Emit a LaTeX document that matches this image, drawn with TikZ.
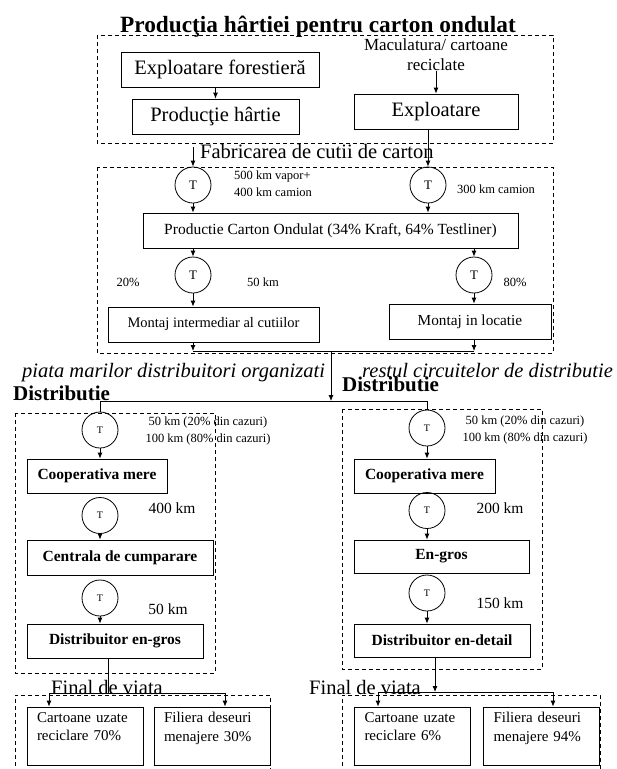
\documentclass[tikz,border=0pt]{standalone}
\usepackage{fontspec}
\setmainfont{Liberation Serif}
\usetikzlibrary{arrows.meta,calc}
\begin{document}
\begin{tikzpicture}[x=1pt,y=-1pt,
  box/.style={draw, line width=0.8pt, inner sep=0pt, anchor=center},
  tcirc/.style={draw, circle, line width=0.8pt, minimum size=36pt, inner sep=0pt},
  tbig/.style={tcirc, font=\fontsize{13}{15}\selectfont},
  tsmall/.style={tcirc, font=\fontsize{10}{12}\selectfont},
  dbox/.style={draw, line width=0.8pt, dash pattern=on 4pt off 3pt},
  arr/.style={-{Latex[length=6pt,width=5pt]}, line width=0.8pt},
  ln/.style={line width=0.8pt},
  lbl/.style={inner sep=0pt, font=\fontsize{12.5}{17}\selectfont},
  mid/.style={inner sep=0pt, font=\fontsize{15.5}{18}\selectfont},
  big/.style={inner sep=0pt, font=\fontsize{20.5}{24}\selectfont},
  bbox/.style={box, font=\fontsize{15.5}{18}\selectfont\bfseries},
  fbox/.style={box, minimum height=58pt, text width=96pt, inner xsep=10pt, align=left, font=\fontsize{15}{18.5}\selectfont},
]
\useasboundingbox[fill=white] (0,0) rectangle (617,769);

% dashed frames
\draw[dbox] (97,35) rectangle (553,143);
\draw[dbox] (97,167) rectangle (553,353);
\draw[dbox] (15,413) rectangle (215,673);
\draw[dbox] (342,409) rectangle (542,669);
\draw[dbox] (15,780) |- (270,695) -- (270,780);
\draw[dbox] (342,780) |- (600,695) -- (600,780);

% title
\node[inner sep=0pt, anchor=base, font=\fontsize{23.3}{27}\selectfont\bfseries] (title) at (318,32) {Producţia hârtiei pentru carton ondulat};

% paper production
\node[box, minimum width=198pt, minimum height=35pt, font=\fontsize{20.5}{24}\selectfont] (e1) at (220,69.5) {Exploatare forestieră};
\node[box, minimum width=167pt, minimum height=35pt, font=\fontsize{20.5}{24}\selectfont] (e2) at (215.5,116.5) {Producţie hârtie};
\node[inner sep=0pt, align=center, font=\fontsize{17}{20}\selectfont] (mac) at (436,55) {Maculatura/ cartoane\\reciclate};
\node[box, minimum width=164pt, minimum height=35pt, font=\fontsize{20.5}{24}\selectfont] (x) at (436,111.5) {Exploatare};

\draw[arr] (e2.north |- e1.south) -- (e2.north);
\draw[arr] (mac.south) -- (x.north);

% box making
\node[big, anchor=base west] (fab) at (200,158) {Fabricarea de cutii de carton};
\node[tbig] (t1) at (193,185) {T};
\node[tbig] (t2) at (428,185) {T};
\node[lbl, align=left, anchor=west] (l1) at (234,184) {500 km vapor+\\400 km camion};
\node[lbl, anchor=west] (l2) at (457,189) {300 km camion};
\node[box, minimum width=375pt, minimum height=35pt, font=\fontsize{15.5}{18}\selectfont] (p) at (330.5,230.5) {Productie Carton Ondulat (34\% Kraft, 64\% Testliner)};
\node[tbig] (t3) at (193,275) {T};
\node[tbig] (t4) at (474,275) {T};
\node[lbl] (l3) at (128,282) {20\%};
\node[lbl] (l4) at (263,282) {50 km};
\node[lbl] (l5) at (515,282) {80\%};
\node[box, minimum width=211pt, minimum height=35pt, font=\fontsize{14.5}{17}\selectfont] (m1) at (213.5,324.5) {Montaj intermediar al cutiilor};
\node[box, minimum width=162pt, minimum height=35pt, font=\fontsize{15.3}{18}\selectfont] (m2) at (470,321.5) {Montaj in locatie};

\coordinate (s1) at (193,147);
\draw[arr] (s1) -- (t1.north);
\draw[arr] (x.south -| t2.north) -- (t2.north);
\draw[arr] (t1.south) -- (t1.south |- p.north);
\draw[arr] (t2.south) -- (t2.south |- p.north);
\draw[arr] (p.south -| t3.north) -- (t3.north);
\draw[arr] (p.south -| t4.north) -- (t4.north);
\draw[arr] (t3.south) -- (t3.south |- m1.north);
\draw[arr] (t4.south) -- (t4.south |- m2.north);

\coordinate (j1) at (193,351);
\coordinate (j2) at (474,351);
\draw[arr] (m1.south -| j1) -- (j1);
\draw[arr] (m2.south -| j2) -- (j2);
\draw[ln] (j1) -- (j2);
\coordinate (j3) at (331,351);
\coordinate (j4) at (331,401);
\draw[arr] (j3) -- (j4);

% distribution labels
\node[big, anchor=base west, font=\fontsize{20.5}{24}\selectfont\itshape] (pm) at (22,377) {piata marilor distribuitori organizati};
\node[big, anchor=base west, font=\fontsize{20.5}{24}\selectfont\itshape] (rc) at (362,377) {restul circuitelor de distributie};
\node[inner sep=0pt, anchor=base west, font=\fontsize{21}{24}\selectfont\bfseries] (d1t) at (13,400) {Distributie};
\node[inner sep=0pt, anchor=base west, font=\fontsize{21}{24}\selectfont\bfseries] (d2t) at (342,391) {Distributie};

\coordinate (j5) at (100,401);
\coordinate (j6) at (427,401);
\draw[ln] (j5) -- (j6);

% left distribution chain
\node[tsmall] (t5) at (100,430) {T};
\node[lbl, align=center] (l6) at (208,431) {50 km (20\% din cazuri)\\100 km (80\% din cazuri)};
\node[bbox, minimum width=140pt, minimum height=34pt] (c1) at (97,476) {Cooperativa mere};
\node[tsmall] (t6) at (100,515.5) {T};
\node[mid] (l7) at (172,508) {400 km};
\node[bbox, minimum width=186pt, minimum height=35pt] (c3) at (120,557.5) {Centrala de cumparare};
\node[tsmall] (t7) at (100,598) {T};
\node[mid] (l8) at (168,609) {50 km};
\node[bbox, minimum width=176pt, minimum height=34pt] (d1) at (115,641) {Distribuitor en-gros};

\draw[ln] (j5) -- (t5.north);
\draw[arr] (t5.south) -- (t5.south |- c1.north);
\draw[arr] (t6.south) -- (t6.south |- c3.north);
\draw[arr] (t7.south) -- (t7.south |- d1.north);

% right distribution chain
\node[tsmall] (t8) at (427,428) {T};
\node[lbl, align=center] (l9) at (525,430) {50 km (20\% din cazuri)\\100 km (80\% din cazuri)};
\node[bbox, minimum width=141pt, minimum height=34pt] (c2) at (424.5,476) {Cooperativa mere};
\node[tsmall] (t9) at (427,510.5) {T};
\node[mid] (l10) at (500,508) {200 km};
\node[bbox, minimum width=175pt, minimum height=33pt] (eg) at (441.5,556.5) {En-gros};
\node[tsmall] (t10) at (427,593) {T};
\node[mid] (l11) at (500,603) {150 km};
\node[bbox, minimum width=176pt, minimum height=33pt] (d2) at (442,640.5) {Distribuitor en-detail};

\draw[ln] (j6) -- (t8.north);
\draw[arr] (t8.south) -- (t8.south |- c2.north);
\draw[arr] (t9.south) -- (t9.south |- eg.north);
\draw[arr] (t10.south) -- (t10.south |- d2.north);

% end of life
\node[big, anchor=base west] (fv1) at (51,694) {Final de viata};
\node[big, anchor=base west] (fv2) at (309,694) {Final de viata};

\node[fbox] (f1) at (85,736) {Cartoane uzate\\reciclare 70\%\\\mbox{}};
\node[fbox] (f2) at (212,736) {Filiera deseuri\\menajere 30\%\\\mbox{}};
\node[fbox] (f3) at (412.5,736) {Cartoane uzate\\reciclare 6\%\\\mbox{}};
\node[fbox] (f4) at (541.5,736) {Filiera deseuri\\menajere 94\%\\\mbox{}};

\coordinate (k1) at (108,693);
\coordinate (k1a) at (49,693);
\coordinate (k1b) at (225,693);
\draw[ln] (d1.south -| k1) -- (k1);
\draw[ln] (k1a) -- (k1b);
\draw[arr] (k1a) -- (f1.north -| k1a);
\draw[arr] (k1b) -- (f2.north -| k1b);

\coordinate (k2) at (435,692);
\coordinate (k2a) at (378,692);
\coordinate (k2b) at (553,692);
\draw[arr] (d2.south -| k2) -- (k2);
\draw[ln] (k2a) -- (k2b);
\draw[arr] (k2a) -- (f3.north -| k2a);
\draw[arr] (k2b) -- (f4.north -| k2b);
\end{tikzpicture}
\end{document}
